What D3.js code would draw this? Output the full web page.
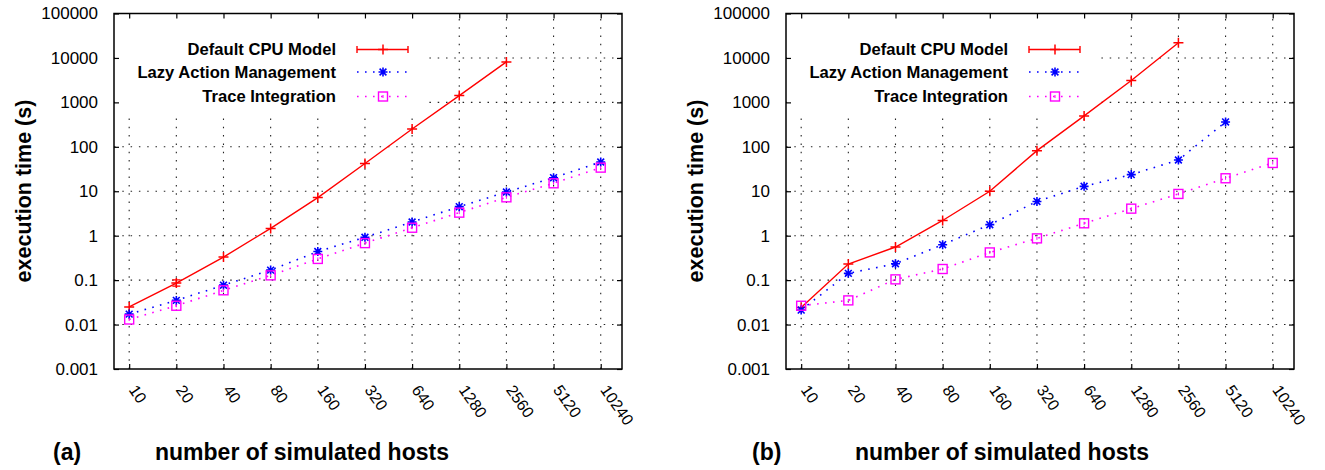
<!DOCTYPE html>
<html>
<head>
<meta charset="utf-8">
<script src="https://cdn.jsdelivr.net/npm/d3@7"></script>
<style>
  html, body { margin: 0; padding: 0; background: #fff; }
  svg { display: block; font-family: "Liberation Sans", Arial, Helvetica, sans-serif; }
</style>
</head>
<body>
<svg id="chart" width="1325" height="470"></svg>
<script>
// ---------- data ----------
const hosts = [10, 20, 40, 80, 160, 320, 640, 1280, 2560, 5120, 10240];
const hostLabels = ["10", "20", "40", "80", "160", "320", "640", "1280", "2560", "5120", "10240"];
const yTicks = [0.001, 0.01, 0.1, 1, 10, 100, 1000, 10000, 100000];
const yTickLabels = ["0.001", "0.01", "0.1", "1", "10", "100", "1000", "10000", "100000"];
const seriesNames = ["Default CPU Model", "Lazy Action Management", "Trace Integration"];

// panel (a)
const aDefault = [0.025, 0.086, 0.33, 1.46, 7.2, 42, 252, 1420, 8150];
const aDefaultErrLow = [0.025, 0.073, 0.33, 1.46, 7.2, 42, 252, 1420, 8150];
const aDefaultErrHigh = [0.025, 0.101, 0.33, 1.46, 7.2, 42, 252, 1420, 8150];
const aLazy = [0.0172, 0.035, 0.077, 0.168, 0.44, 0.92, 2.03, 4.5, 9.6, 20.2, 45.6];
const aTrace = [0.013, 0.0265, 0.059, 0.128, 0.30, 0.68, 1.51, 3.3, 7.3, 15.1, 34];

// panel (b)
const bDefault = [0.0243, 0.23, 0.556, 2.2, 10, 82, 496, 3100, 21900];
const bLazy = [0.0212, 0.142, 0.234, 0.627, 1.77, 5.9, 12.9, 23.7, 50.4, 363];
const bTrace = [0.0265, 0.035, 0.104, 0.178, 0.42, 0.87, 1.9, 4.06, 8.7, 19.6, 43.3];

// ---------- drawing ----------
const svg = d3.select("#chart");
const RED = "#ff0000", BLUE = "#0000ff", MAG = "#ff00ff";

function drawPanel(cfg) {
  const g = svg.append("g");
  const x = d3.scaleLog().base(2).domain([8, 14000]).range([cfg.left, cfg.right]);
  const y = d3.scaleLog().domain([0.001, 100000]).range([369, 13.5]);
  const top = y.range()[1], bottom = y.range()[0];

  // grid (dotted)
  const grid = g.append("g").attr("stroke", "#222").attr("stroke-width", 1.1)
    .attr("stroke-dasharray", "1.5,6.8").attr("fill", "none");
  yTicks.slice(1, -1).forEach(v => {
    grid.append("line").attr("x1", cfg.left).attr("x2", cfg.right)
      .attr("y1", y(v)).attr("y2", y(v));
  });
  hosts.forEach(h => {
    grid.append("line").attr("x1", x(h)).attr("x2", x(h))
      .attr("y1", bottom).attr("y2", top);
  });

  // key background
  g.append("rect").attr("x", cfg.left + 1).attr("y", top + 1)
    .attr("width", 309).attr("height", 117 - top).attr("fill", "#fff");

  // axes (ticks inward, mirrored)
  const yAxisL = d3.axisLeft(y).tickValues(yTicks).tickSize(-5).tickFormat((d, i) => yTickLabels[i]).tickPadding(16);
  const gyl = g.append("g").attr("transform", `translate(${cfg.left},0)`).call(yAxisL);
  gyl.selectAll("text").attr("font-size", 17).attr("fill", "#000")
    .attr("font-family", "Liberation Sans, Arial, sans-serif");
  const yAxisR = d3.axisRight(y).tickValues(yTicks).tickSize(-5).tickFormat("");
  g.append("g").attr("transform", `translate(${cfg.right},0)`).call(yAxisR);
  const xAxisB = d3.axisBottom(x).tickValues(hosts).tickSize(-5).tickFormat("");
  g.append("g").attr("transform", `translate(0,${bottom})`).call(xAxisB);
  const xAxisT = d3.axisTop(x).tickValues(hosts).tickSize(-5).tickFormat("");
  g.append("g").attr("transform", `translate(0,${top})`).call(xAxisT);
  g.selectAll(".domain").remove();
  g.selectAll(".tick line").attr("stroke", "#000").attr("stroke-width", 1.2);

  // border
  g.append("rect").attr("x", cfg.left).attr("y", top)
    .attr("width", cfg.right - cfg.left).attr("height", bottom - top)
    .attr("fill", "none").attr("stroke", "#000").attr("stroke-width", 1.5);

  // x tick labels (rotated)
  hosts.forEach((h, i) => {
    g.append("text")
      .attr("transform", `translate(${x(h) - 1},${bottom + 21}) rotate(55)`)
      .attr("font-size", 16).attr("fill", "#000")
      .text(hostLabels[i]);
  });

  // axis titles
  g.append("text")
    .attr("transform", `translate(${cfg.yTitleX},191) rotate(-90)`)
    .attr("text-anchor", "middle").attr("font-weight", "bold").attr("font-size", 21.5)
    .text("execution time (s)");
  g.append("text").attr("x", cfg.panelX).attr("y", 460)
    .attr("font-weight", "bold").attr("font-size", 23).text(cfg.panel);
  g.append("text").attr("x", cfg.xTitleX).attr("y", 460)
    .attr("font-weight", "bold").attr("font-size", 23).text("number of simulated hosts");

  // series
  const line = d3.line().x((d, i) => x(hosts[i])).y(d => y(d));
  const dataG = g.append("g");

  dataG.append("path").datum(cfg.def).attr("d", line)
    .attr("fill", "none").attr("stroke", RED).attr("stroke-width", 1.4);
  dataG.append("path").datum(cfg.lazy).attr("d", line)
    .attr("fill", "none").attr("stroke", BLUE).attr("stroke-width", 1.6)
    .attr("stroke-dasharray", "1.6,6.4");
  dataG.append("path").datum(cfg.trace).attr("d", line)
    .attr("fill", "none").attr("stroke", MAG).attr("stroke-width", 1.6)
    .attr("stroke-dasharray", "1.6,6.4");

  function plus(gg, cx, cy) {
    gg.append("path").attr("d", `M${cx - 5},${cy}H${cx + 5}M${cx},${cy - 5}V${cy + 5}`)
      .attr("stroke", RED).attr("stroke-width", 1.5);
  }
  function star(gg, cx, cy) {
    gg.append("path").attr("d",
      `M${cx - 4.5},${cy}H${cx + 4.5}M${cx},${cy - 4.5}V${cy + 4.5}` +
      `M${cx - 3.4},${cy - 3.4}L${cx + 3.4},${cy + 3.4}M${cx - 3.4},${cy + 3.4}L${cx + 3.4},${cy - 3.4}`)
      .attr("stroke", BLUE).attr("stroke-width", 1.6);
  }
  function square(gg, cx, cy) {
    gg.append("rect").attr("x", cx - 4.5).attr("y", cy - 4.5).attr("width", 9).attr("height", 9)
      .attr("fill", "none").attr("stroke", MAG).attr("stroke-width", 1.4);
    gg.append("path").attr("d", `M${cx},${cy - 1.5}V${cy + 1.5}`)
      .attr("stroke", MAG).attr("stroke-width", 1);
  }

  // error bars for default series
  if (cfg.errLow) {
    cfg.errLow.forEach((lo, i) => {
      const hi = cfg.errHigh[i];
      if (hi > lo) {
        const cx = x(hosts[i]);
        dataG.append("path").attr("d",
          `M${cx},${y(lo)}V${y(hi)}M${cx - 4},${y(lo)}H${cx + 4}M${cx - 4},${y(hi)}H${cx + 4}`)
          .attr("stroke", RED).attr("stroke-width", 1.3).attr("fill", "none");
      }
    });
  }
  cfg.def.forEach((v, i) => plus(dataG, x(hosts[i]), y(v)));
  cfg.lazy.forEach((v, i) => star(dataG, x(hosts[i]), y(v)));
  cfg.trace.forEach((v, i) => square(dataG, x(hosts[i]), y(v)));

  // legend
  const rows = [49.5, 72, 96.5];
  const kx = cfg.left;
  const lg = g.append("g");
  seriesNames.forEach((name, i) => {
    lg.append("text").attr("x", kx + 222).attr("y", rows[i]).attr("dy", "0.35em")
      .attr("text-anchor", "end").attr("font-weight", "bold").attr("font-size", 16.6)
      .text(name);
  });
  lg.append("path").attr("d",
    `M${kx + 243},${rows[0]}H${kx + 294}M${kx + 243},${rows[0] - 3.5}V${rows[0] + 3.5}M${kx + 294},${rows[0] - 3.5}V${rows[0] + 3.5}`)
    .attr("stroke", RED).attr("stroke-width", 1.4).attr("fill", "none");
  plus(lg, kx + 269, rows[0]);
  lg.append("line").attr("x1", kx + 243).attr("x2", kx + 294).attr("y1", rows[1]).attr("y2", rows[1])
    .attr("stroke", BLUE).attr("stroke-width", 1.6).attr("stroke-dasharray", "1.6,6.4");
  star(lg, kx + 269, rows[1]);
  lg.append("line").attr("x1", kx + 243).attr("x2", kx + 294).attr("y1", rows[2]).attr("y2", rows[2])
    .attr("stroke", MAG).attr("stroke-width", 1.6).attr("stroke-dasharray", "1.6,6.4");
  square(lg, kx + 269, rows[2]);
}

drawPanel({
  left: 114, right: 622, panel: "(a)", panelX: 53, xTitleX: 155, yTitleX: 31,
  def: aDefault, errLow: aDefaultErrLow, errHigh: aDefaultErrHigh, lazy: aLazy, trace: aTrace
});
drawPanel({
  left: 786, right: 1294, panel: "(b)", panelX: 752, xTitleX: 855, yTitleX: 703,
  def: bDefault, lazy: bLazy, trace: bTrace
});
</script>
</body>
</html>
